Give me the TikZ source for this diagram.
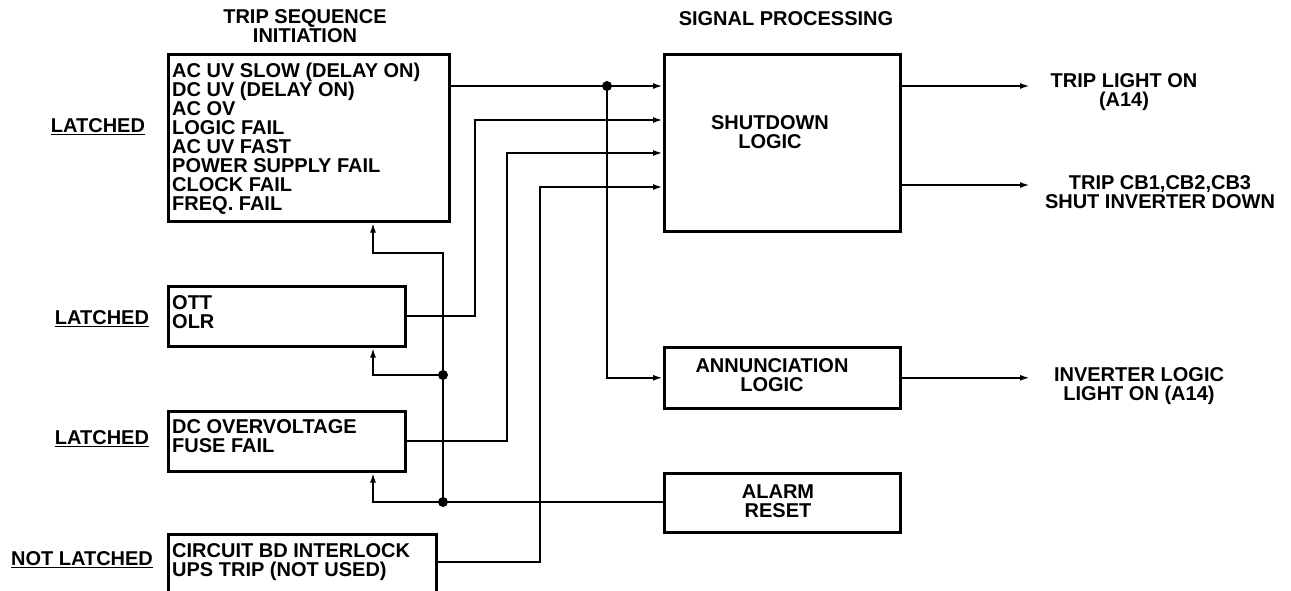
\documentclass[tikz,border=0pt]{standalone}
\usepackage{fontspec}
\setmainfont{Liberation Sans}
\usetikzlibrary{arrows.meta}
\begin{document}
\begin{tikzpicture}[x=1pt,y=-1pt,
  box/.style={draw, line width=2.6pt, rectangle, inner sep=0pt, anchor=north west},
  txt/.style={inner sep=0pt, font=\bfseries\fontsize{20}{19}\selectfont},
  ln/.style={txt, anchor=base west},
  ctext/.style={txt, align=center},
  wire/.style={line width=2.3pt},
  arr/.style={wire, -{Latex[length=10pt,width=6pt]}},
  jdot/.style={circle, fill, inner sep=0pt, minimum size=10pt}]
\useasboundingbox (0,0) rectangle (1291,590);
\clip (0,0) rectangle (1291,590);

% boxes
\node[box, minimum width=281pt, minimum height=167pt] (tsi) at (167,53) {};
\node[box, minimum width=237pt, minimum height=60pt] (ott) at (167,285) {};
\node[box, minimum width=237pt, minimum height=60pt] (dcov) at (167,410) {};
\node[box, minimum width=268pt, minimum height=90pt] (cb) at (167,533) {};
\node[box, minimum width=236pt, minimum height=177pt] (sd) at (663,53) {};
\node[box, minimum width=236pt, minimum height=61pt] (ann) at (663,346) {};
\node[box, minimum width=236pt, minimum height=59pt] (alarm) at (663,472) {};

% box texts
\foreach \t [count=\i] in {AC UV SLOW (DELAY ON),DC UV (DELAY ON),AC OV,LOGIC FAIL,AC UV FAST,POWER SUPPLY FAIL,CLOCK FAIL,FREQ. FAIL}
  \node[ln] (tsi-\i) at (172,{77+19*(\i-1)}) {\t};
\node[ln] (ott-1) at (172,309) {OTT};
\node[ln] (ott-2) at (172,328) {OLR};
\node[ln] (dcov-1) at (172,433) {DC OVERVOLTAGE};
\node[ln] (dcov-2) at (172,452) {FUSE FAIL};
\node[ln] (cb-1) at (172,557) {CIRCUIT BD INTERLOCK};
\node[ln] (cb-2) at (172,576) {UPS TRIP (NOT USED)};
\node[ctext] (sdt) at (770,132) {SHUTDOWN\\LOGIC};
\node[ctext] (annt) at (772,375) {ANNUNCIATION\\LOGIC};
\node[ctext] (alarmt) at (778,501) {ALARM\\RESET};

% titles and labels
\node[ctext] (title1) at (305,26) {TRIP SEQUENCE\\INITIATION};
\node[ctext] (title2) at (786,19) {SIGNAL PROCESSING};
\node[txt] (lat1) at (98,127) {\underline{LATCHED}};
\node[txt] (lat2) at (102,319) {\underline{LATCHED}};
\node[txt] (lat3) at (102,439) {\underline{LATCHED}};
\node[txt] (lat4) at (82,560) {\underline{NOT LATCHED}};

% output texts
\node[ctext] (out1) at (1124,92) {TRIP LIGHT ON\\(A14)};
\node[ctext] (out2) at (1160,192) {TRIP CB1,CB2,CB3\\SHUT INVERTER DOWN};
\node[ctext] (out3) at (1139,386) {INVERTER LOGIC\\LIGHT ON (A14)};

% helper coordinates
\coordinate (r1) at (0,86);
\coordinate (r2) at (0,120);
\coordinate (r3) at (0,153);
\coordinate (r4) at (0,187);
\coordinate (r5) at (0,562);
\coordinate (r6) at (0,185);
\coordinate (t253) at (0,253);
\coordinate (xr) at (373,0);
\coordinate (ox) at (1030,0);

% junction dots
\node[jdot] (d1) at (607,86) {};
\node[jdot] (d2) at (443,375) {};
\node[jdot] (d3) at (443,502) {};

% inputs to shutdown logic
\draw[arr] (tsi.east |- r1) -- (sd.west |- r1);
\draw[arr] (ott.east) -| (475,120) -- (sd.west |- r2);
\draw[arr] (dcov.east) -| (507,153) -- (sd.west |- r3);
\draw[arr] (cb.east |- r5) -| (540,187) -- (sd.west |- r4);
\draw[arr] (d1.center) |- (ann.west);

% outputs
\draw[arr] (sd.east |- r1) -- (ox |- r1);
\draw[arr] (sd.east |- r6) -- (ox |- r6);
\draw[arr] (ann.east) -- (ox |- ann.east);

% alarm reset distribution
\draw[wire] (alarm.west |- d3) -- (d3.center);
\draw[arr] (d3.center) -| (dcov.south -| xr);
\draw[arr] (d2.center) -| (ott.south -| xr);
\draw[arr] (d3.center) -- (d3.center |- t253) -| (tsi.south -| xr);
\end{tikzpicture}
\end{document}
